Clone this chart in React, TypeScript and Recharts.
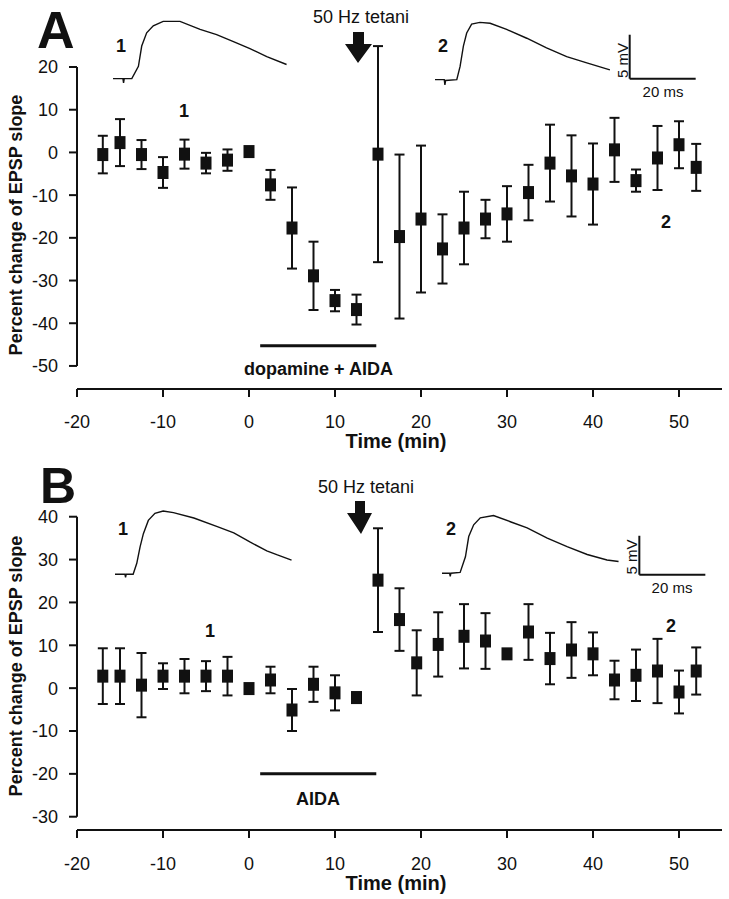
import React from 'react';
import { ScatterChart, Scatter, ErrorBar, XAxis, YAxis, ReferenceLine, LineChart, Line } from 'recharts';

const FONT = '"Liberation Sans", Arial, Helvetica, sans-serif';
const INK = '#111';

// Panel A: dopamine + AIDA, then 50 Hz tetani
const timeA = [-17, -15, -12.5, -10, -7.5, -5, -2.5, 0, 2.5, 5, 7.5, 10, 12.5, 15, 17.5, 20, 22.5, 25, 27.5, 30, 32.5, 35, 37.5, 40, 42.5, 45, 47.5, 50, 52];
const meanA = [-0.5, 2.3, -0.5, -4.7, -0.4, -2.5, -1.8, 0.2, -7.6, -17.7, -28.9, -34.7, -36.8, -0.4, -19.7, -15.6, -22.6, -17.7, -15.6, -14.4, -9.4, -2.5, -5.5, -7.4, 0.6, -6.6, -1.3, 1.8, -3.5];
const semA = [4.4, 5.5, 3.4, 3.6, 3.4, 2.4, 2.5, 1, 3.5, 9.5, 8, 2.5, 3.5, 25.3, 19.2, 17.2, 8.1, 8.5, 4.5, 6.5, 6.5, 9, 9.5, 9.5, 7.5, 2.6, 7.5, 5.5, 5.5];

// Panel B: AIDA alone, then 50 Hz tetani
const timeB = [-17, -15, -12.5, -10, -7.5, -5, -2.5, 0, 2.5, 5, 7.5, 10, 12.5, 15, 17.5, 19.5, 22, 25, 27.5, 30, 32.5, 35, 37.5, 40, 42.5, 45, 47.5, 50, 52];
const meanB = [2.8, 2.8, 0.7, 2.8, 2.8, 2.8, 2.8, -0.1, 1.9, -5.1, 0.9, -1.1, -2.2, 25.2, 16.0, 5.9, 10.2, 12.1, 11.0, 8.0, 13.1, 6.9, 8.9, 8.0, 1.9, 3.0, 4.0, -0.9, 4.0];
const semB = [6.5, 6.5, 7.5, 3.0, 4.0, 3.5, 4.5, 0, 3.1, 4.9, 4.1, 4.1, 1.2, 12.1, 7.3, 7.6, 7.5, 7.5, 6.5, 0, 6.5, 6.0, 6.5, 5.0, 4.5, 6.0, 7.5, 5.0, 5.5];

const xTicks = [-20, -10, 0, 10, 20, 30, 40, 50];
const yTicksA = [-50, -40, -30, -20, -10, 0, 10, 20];
const yTicksB = [-30, -20, -10, 0, 10, 20, 30, 40];

// drug application bars: [start, end] in min, level in %
const drugSpanA = [1.3, 14.8];
const drugLevelA = -45.3;
const drugSpanB = [1.3, 14.8];
const drugLevelB = -20;

// EPSP sample traces (ms, mV)
const traceA1ms = [0, 3, 3.2, 3.4, 5.7, 7.7, 8.7, 10.2, 12.2, 15.2, 20.3, 26.4, 31.4, 36.5, 41.5, 46.6, 52.6];
const traceA1mv = [0, 0, -0.5, 0, 0, 1.4, 3.7, 5.2, 6.0, 6.5, 6.5, 5.6, 5.0, 4.2, 3.4, 2.5, 1.6];
const traceA2ms = [0, 2.8, 3.0, 3.2, 6.6, 7.6, 8.6, 9.6, 11.1, 13.6, 16.7, 21.7, 27.8, 33.8, 39.9, 46, 53];
const traceA2mv = [0, 0, -0.6, -0.1, 0, 1.5, 3.8, 5.3, 6.3, 6.5, 6.4, 5.7, 4.7, 3.6, 2.6, 1.9, 1.1];
const traceB1ms = [0, 3, 3.2, 3.4, 5.5, 6.6, 7.6, 8.6, 10.1, 12.1, 14.6, 17.7, 23.9, 31, 36, 41, 46, 49, 53.5];
const traceB1mv = [0, 0, -0.4, 0, 0, 1.4, 3.5, 5.2, 6.9, 7.8, 8.1, 7.9, 7.2, 6.1, 5.3, 4.1, 3.0, 2.5, 1.8];
const traceB2ms = [0, 2.3, 2.5, 2.7, 5.5, 7.1, 8.1, 9.6, 11.6, 15.6, 20.7, 25.8, 31.9, 37.9, 44, 50, 53.5];
const traceB2mv = [0, 0, -0.4, 0, 0.1, 2.1, 4.7, 6.2, 7.1, 7.4, 6.6, 5.8, 4.5, 3.4, 2.4, 1.7, 1.5];

const barMs = 20;
const barMv = 5;

const Square = (props: any) => {
  const { cx, cy } = props;
  if (cx == null || cy == null) return null;
  return <rect x={cx - 5.5} y={cy - 6.5} width={11} height={13} fill={INK} />;
};

interface PanelProps {
  time: number[];
  mean: number[];
  sem: number[];
  top: number;
  height: number;
  marginTop: number;
  domain: [number, number];
  yTicks: number[];
  drugSpan: number[];
  drugLevel: number;
  tickMargin: number;
}

const Panel: React.FC<PanelProps> = ({ time, mean, sem, top, height, marginTop, domain, yTicks, drugSpan, drugLevel, tickMargin }) => {
  const data = time.map((t, i) => ({ t, v: mean[i], e: sem[i] }));
  return (
    <div style={{ position: 'absolute', left: 0, top }}>
      <ScatterChart width={729} height={height} margin={{ top: marginTop, right: 7, bottom: 0, left: 0 }}>
        <XAxis
          dataKey="t"
          type="number"
          domain={[-20, 55]}
          ticks={xTicks}
          allowDataOverflow
          height={60}
          tickSize={8}
          tickMargin={tickMargin}
          axisLine={{ stroke: INK, strokeWidth: 2 }}
          tickLine={{ stroke: INK, strokeWidth: 2 }}
          tick={{ fill: INK, fontSize: 18, fontFamily: FONT }}
        />
        <YAxis
          dataKey="v"
          type="number"
          domain={domain}
          ticks={yTicks}
          allowDataOverflow
          width={77}
          tickSize={8}
          tickMargin={11}
          axisLine={false}
          tickLine={{ stroke: INK, strokeWidth: 2 }}
          tick={{ fill: INK, fontSize: 18, fontFamily: FONT }}
        />
        <ReferenceLine
          segment={[{ x: -20, y: yTicks[0] }, { x: -20, y: yTicks[yTicks.length - 1] }]}
          stroke={INK}
          strokeWidth={2}
        />
        <ReferenceLine
          segment={[{ x: drugSpan[0], y: drugLevel }, { x: drugSpan[1], y: drugLevel }]}
          stroke={INK}
          strokeWidth={3}
        />
        <Scatter data={data} dataKey="v" fill={INK} shape={Square} isAnimationActive={false}>
          <ErrorBar dataKey="e" direction="y" width={5} strokeWidth={2} stroke={INK} />
        </Scatter>
      </ScatterChart>
    </div>
  );
};

interface TraceProps {
  ms: number[];
  mv: number[];
  originX: number;
  originY: number;
  xMax: number;
  yMin: number;
  yMax: number;
  pxPerMs: number;
  pxPerMv: number;
  bar?: { t: number; base: number };
}

const Trace: React.FC<TraceProps> = ({ ms, mv, originX, originY, xMax, yMin, yMax, pxPerMs, pxPerMv, bar }) => {
  const data = ms.map((t, i) => ({ t, v: mv[i] }));
  const width = xMax * pxPerMs;
  const height = (yMax - yMin) * pxPerMv;
  return (
    <div style={{ position: 'absolute', left: originX, top: originY - yMax * pxPerMv }}>
      <LineChart width={width} height={height} data={data} margin={{ top: 0, right: 0, bottom: 0, left: 0 }}>
        <XAxis dataKey="t" type="number" domain={[0, xMax]} hide allowDataOverflow height={0} />
        <YAxis type="number" domain={[yMin, yMax]} hide allowDataOverflow width={0} />
        <Line dataKey="v" type="linear" stroke={INK} strokeWidth={1.4} dot={false} isAnimationActive={false} />
        {bar && (
          <ReferenceLine segment={[{ x: bar.t, y: bar.base }, { x: bar.t, y: bar.base + barMv }]} stroke={INK} strokeWidth={2} />
        )}
        {bar && (
          <ReferenceLine segment={[{ x: bar.t, y: bar.base }, { x: bar.t + barMs, y: bar.base }]} stroke={INK} strokeWidth={2} />
        )}
      </LineChart>
    </div>
  );
};

const T = (p: any) => <text fontFamily={FONT} fill={INK} {...p} />;

export default function App() {
  return (
    <div style={{ position: 'absolute', left: 0, top: 0, width: 729, height: 899, background: '#fff' }}>
      <Panel
        time={timeA}
        mean={meanA}
        sem={semA}
        top={0}
        height={449}
        marginTop={41.4}
        domain={[-55.4, 26]}
        yTicks={yTicksA}
        drugSpan={drugSpanA}
        drugLevel={drugLevelA}
        tickMargin={18}
      />
      <Panel
        time={timeB}
        mean={meanB}
        sem={semB}
        top={460}
        height={430}
        marginTop={31}
        domain={[-33.1, 46]}
        yTicks={yTicksB}
        drugSpan={drugSpanB}
        drugLevel={drugLevelB}
        tickMargin={19}
      />

      <Trace ms={traceA1ms} mv={traceA1mv} originX={113} originY={79} xMax={56} yMin={-1} yMax={7} pxPerMs={3.3} pxPerMv={8.8} />
      <Trace ms={traceA2ms} mv={traceA2mv} originX={435} originY={80} xMax={82} yMin={-1} yMax={7} pxPerMs={3.3} pxPerMv={8.8} bar={{ t: 59, base: 0.1 }} />
      <Trace ms={traceB1ms} mv={traceB1mv} originX={115} originY={574.3} xMax={56} yMin={-1} yMax={9} pxPerMs={3.3} pxPerMv={7.8} />
      <Trace ms={traceB2ms} mv={traceB2mv} originX={441.7} originY={573.3} xMax={82} yMin={-1} yMax={9} pxPerMs={3.3} pxPerMv={7.8} bar={{ t: 59.8, base: -0.2 }} />

      <svg width={729} height={899} style={{ position: 'absolute', left: 0, top: 0, pointerEvents: 'none' }}>
        {/* panel A */}
        <T x={37} y={48} fontSize={52} fontWeight="bold">A</T>
        <T x={361} y={23} fontSize={18} textAnchor="middle">50 Hz tetani</T>
        <path d="M353,32 L364,32 L364,44 L372,44 L358,63 L345,44 L353,44 Z" fill={INK} />
        <T x={121} y={52} fontSize={18} fontWeight="bold" textAnchor="middle">1</T>
        <T x={184} y={117} fontSize={18} fontWeight="bold" textAnchor="middle">1</T>
        <T x={443} y={52} fontSize={18} fontWeight="bold" textAnchor="middle">2</T>
        <T x={666} y={228} fontSize={18} fontWeight="bold" textAnchor="middle">2</T>
        <T transform="translate(628,60.5) rotate(-90)" fontSize={15} textAnchor="middle">5 mV</T>
        <T x={663} y={97} fontSize={15} textAnchor="middle">20 ms</T>
        <T x={318.5} y={375} fontSize={18} fontWeight="bold" textAnchor="middle">dopamine + AIDA</T>
        <T x={396} y={448} fontSize={20} fontWeight="bold" textAnchor="middle">Time (min)</T>
        <T transform="translate(22,225) rotate(-90)" fontSize={18} fontWeight="bold" textAnchor="middle">Percent change of EPSP slope</T>

        {/* panel B */}
        <T x={40} y={503} fontSize={50} fontWeight="bold">B</T>
        <T x={366} y={493} fontSize={18} textAnchor="middle">50 Hz tetani</T>
        <path d="M355,501 L365,501 L365,513 L372,513 L361,534 L347,513 L355,513 Z" fill={INK} />
        <T x={123} y={535} fontSize={18} fontWeight="bold" textAnchor="middle">1</T>
        <T x={210} y={637} fontSize={18} fontWeight="bold" textAnchor="middle">1</T>
        <T x={451} y={535} fontSize={18} fontWeight="bold" textAnchor="middle">2</T>
        <T x={671} y={632} fontSize={18} fontWeight="bold" textAnchor="middle">2</T>
        <T transform="translate(637,557) rotate(-90)" fontSize={15} textAnchor="middle">5 mV</T>
        <T x={672} y={593} fontSize={15} textAnchor="middle">20 ms</T>
        <T x={318} y={805} fontSize={18} fontWeight="bold" textAnchor="middle">AIDA</T>
        <T x={396} y={890} fontSize={20} fontWeight="bold" textAnchor="middle">Time (min)</T>
        <T transform="translate(22,666) rotate(-90)" fontSize={18} fontWeight="bold" textAnchor="middle">Percent change of EPSP slope</T>
      </svg>
    </div>
  );
}
